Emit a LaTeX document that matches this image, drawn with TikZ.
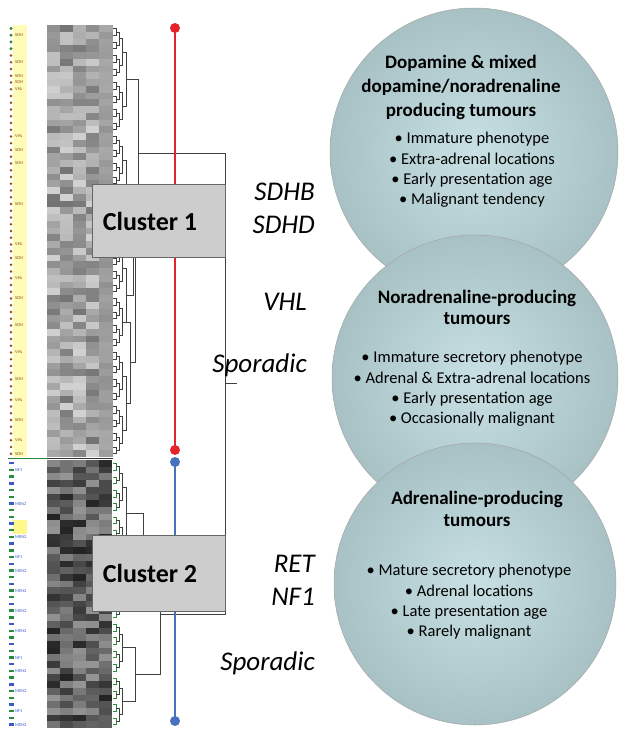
\documentclass[tikz,border=0pt]{standalone}
\usepackage{fontspec}
\setmainfont{Carlito}
\definecolor{ballin}{RGB}{200,224,228}
\definecolor{ballout}{RGB}{134,162,166}
\definecolor{redline}{RGB}{228,36,42}
\definecolor{blueline}{RGB}{72,114,190}
\definecolor{sdhbrown}{RGB}{140,80,30}
\definecolor{men2blue}{RGB}{60,90,200}
\definecolor{nfgreen}{RGB}{40,140,60}
\definecolor{boxgray}{RGB}{205,205,205}
\pgfdeclareradialshading{tumourball}{\pgfpoint{0bp}{0bp}}{color(0bp)=(ballin); color(50bp)=(ballout)}

\def\knob#1#2{
	\fill[color=#1] #2 circle[radius=5];
}

\begin{document}
\begin{tikzpicture}[x=1pt,y=-1pt,
	dendro/.style={draw=black!75,line width=0.5pt},
	clusterbox/.style={draw=gray!80!black,fill=boxgray,line width=0.6pt,inner sep=0pt},
	clustertext/.style={font=\fontsize{26}{30}\selectfont\bfseries},
	gene/.style={font=\fontsize{27}{32}\selectfont\itshape,anchor=base east,inner sep=0pt},
	ball/.style={circle,draw=gray!70,line width=0.5pt,shading=tumourball,inner sep=0pt},
	balltitle/.style={align=center,font=\fontsize{19}{24}\selectfont\bfseries},
	balllist/.style={align=center,font=\fontsize{16.5}{20.3}\selectfont},
	tinylabel/.style={font=\fontsize{4.5}{5}\selectfont,anchor=west,inner sep=0pt}]
\useasboundingbox (0,0) rectangle (629,736);
%
% heat map, cluster 1 rows
\pgfmathsetseed{11}
\foreach \r in {0,...,63}{
	\foreach \c in {0,...,3}{
		\pgfmathtruncatemacro\g{18+38*rnd}
		\fill[black!\g] (47+13*\c,25+6.75*\r) rectangle ++(13,6.75);
	}
	\pgfmathtruncatemacro\g{34+10*rnd}
	\fill[black!\g] (99,25+6.75*\r) rectangle ++(14,6.75);
}
% heat map, cluster 2 rows
\foreach \r in {0,...,39}{
	\foreach \c in {0,...,4}{
		\pgfmathtruncatemacro\g{42+45*rnd}
		\fill[black!\g] (47+13*\c,460+6.7*\r) rectangle ++(13,6.7);
	}
}
%
% label strip
\fill[yellow!28] (13,25) rectangle (27,457);
\foreach \r in {0,...,63}{
	\fill[sdhbrown] (11,28.4+6.75*\r) circle[radius=1.4];
}
\foreach \r in {0,...,3}{
	\fill[nfgreen] (11,28.4+6.75*\r) circle[radius=1.5];
}
\foreach \r/\t in {1/SDH,5/SDH,7/SDH,8/SDH,9/VHL,16/VHL,18/SDH,20/SDH,26/SDH,
	32/VHL,34/SDH,37/VHL,40/SDH,44/SDH,48/VHL,52/SDH,55/VHL,58/SDH,61/VHL,63/SDH}{
	\node[tinylabel,text=sdhbrown] (up\r) at (15,28.4+6.75*\r) {\t};
}
\fill[yellow!45] (13,460+6.7*9) rectangle (27,460+6.7*11);
\foreach \r in {0,...,39}{
	\pgfmathtruncatemacro\m{mod(\r,3)}
	\ifnum\m=0
		\fill[men2blue] (8.5,462+6.7*\r) rectangle ++(5,2.4);
	\else
		\fill[nfgreen] (8.5,462+6.7*\r) rectangle ++(5,2.4);
	\fi
}
\foreach \r/\t in {1/NF1,6/MEN2,11/MEN2,14/NF1,16/MEN2,19/MEN2,22/MEN2,25/MEN2,
	29/NF1,31/MEN2,34/MEN2,37/NF1,39/MEN2}{
	\node[tinylabel,text=men2blue] (lo\r) at (15,463.4+6.7*\r) {\t};
}
\draw[nfgreen,line width=1.6pt] (8,458.5) -- (47,458.5);
\draw[black!80,line width=1pt] (47,458.5) -- (113,458.5);
%
% leaf brackets
\foreach \k/\s/\n in {1/2/31,2/4/15,3/8/7}{
	\foreach \g in {0,...,\n}{
		\pgfmathsetmacro\ya{25+6.75*(\g*\s+\s/4)}
		\pgfmathsetmacro\yb{25+6.75*(\g*\s+3*\s/4)}
		\pgfmathsetmacro\xa{113+3*(\k-1)}
		\pgfmathsetmacro\xb{113+3*\k}
		\draw[dendro] (\xa,\ya) -| (\xb,\yb) -- (\xa,\yb);
	}
}
\foreach \k/\s/\n in {1/2/19,2/4/9,3/8/4}{
	\foreach \g in {0,...,\n}{
		\pgfmathsetmacro\ya{460+6.7*(\g*\s+\s/4)}
		\pgfmathsetmacro\yb{460+6.7*(\g*\s+3*\s/4)}
		\pgfmathsetmacro\xa{113+3*(\k-1)}
		\pgfmathsetmacro\xb{113+3*\k}
		\ifnum\k=1
			\draw[nfgreen,line width=0.5pt] (\xa,\ya) -| (\xb,\yb) -- (\xa,\yb);
		\else
			\draw[dendro] (\xa,\ya) -| (\xb,\yb) -- (\xa,\yb);
		\fi
	}
}
% upper branches
\draw[dendro] (122,52) -| (126,106) -- (122,106);
\draw[dendro] (122,160) -| (126,214) -- (122,214);
\draw[dendro] (122,268) -| (126,322) -- (122,322);
\draw[dendro] (122,376) -| (126,430) -- (122,430);
\draw[dendro] (126,322) -| (130,403) -- (126,403);
\draw[dendro] (126,187) -| (133,295) -- (126,295);
\draw[dendro] (130,362) -| (135,241) -- (133,241);
\draw[dendro] (126,79) -| (138,227) -- (135,227);
\draw[dendro] (122,486.8) -| (126,540.4) -- (122,540.4);
\draw[dendro] (122,647.6) -| (135,701.2) -- (122,701.2);
\draw[dendro] (126,513.6) -| (143,594) -- (122,594);
\draw[dendro] (143,553.8) -| (160,674.4) -- (135,674.4);
\draw[dendro] (138,153) -| (225,614.1) -- (160,614.1);
\draw[dendro] (225,383.5) -- (237,383.5);
%
% cluster lines
\coordinate (rtop) at (175,28);
\coordinate (rbot) at (175,450);
\coordinate (btop) at (175,462);
\coordinate (bbot) at (175,721);
\draw[redline,line width=2.4pt] (rtop) -- (rbot);
\knob{redline}{(rtop)}
\knob{redline}{(rbot)}
\draw[blueline,line width=2.4pt] (btop) -- (bbot);
\knob{blueline}{(btop)}
\knob{blueline}{(bbot)}
%
\node[clusterbox,minimum width=133pt,minimum height=73pt] (box1) at (158.5,220.5) {};
\node[clustertext] (clu1) at (150,221) {Cluster 1};
\node[clusterbox,minimum width=133pt,minimum height=76pt] (box2) at (158.5,573) {};
\node[clustertext] (clu2) at (150,573) {Cluster 2};
%
\node[gene] (sdhb) at (315,200) {SDHB};
\node[gene] (sdhd) at (315,233) {SDHD};
\node[gene] (vhl) at (307,310) {VHL};
\node[gene] (spor1) at (307,372) {Sporadic};
\node[gene] (ret) at (315,572) {RET};
\node[gene] (nf1) at (315,605) {NF1};
\node[gene] (spor2) at (315,670) {Sporadic};
%
\node[ball,minimum size=288pt] (dopa) at (474,152) {};
\node[balltitle] (dopatitle) at (461,87) {Dopamine \& mixed\\dopamine/noradrenaline\\producing tumours};
\node[balllist] (dopalist) at (472,170) {• Immature phenotype\\• Extra-adrenal locations\\• Early presentation age\\• Malignant tendency};
%
\node[ball,minimum size=286pt] (nora) at (475,378) {};
\node[balltitle,font=\fontsize{19}{21.5}\selectfont\bfseries] (noratitle) at (477,307.5) {Noradrenaline-producing\\tumours};
\node[balllist] (noralist) at (472,389) {• Immature secretory phenotype\\• Adrenal \& Extra-adrenal locations\\• Early presentation age\\• Occasionally malignant};
%
\node[ball,minimum size=282pt] (adre) at (475,584) {};
\node[balltitle,font=\fontsize{19}{21.5}\selectfont\bfseries] (adretitle) at (477,509) {Adrenaline-producing\\tumours};
\node[balllist] (adrelist) at (469,602) {• Mature secretory phenotype\\• Adrenal locations\\• Late presentation age\\• Rarely malignant};
\end{tikzpicture}
\end{document}
